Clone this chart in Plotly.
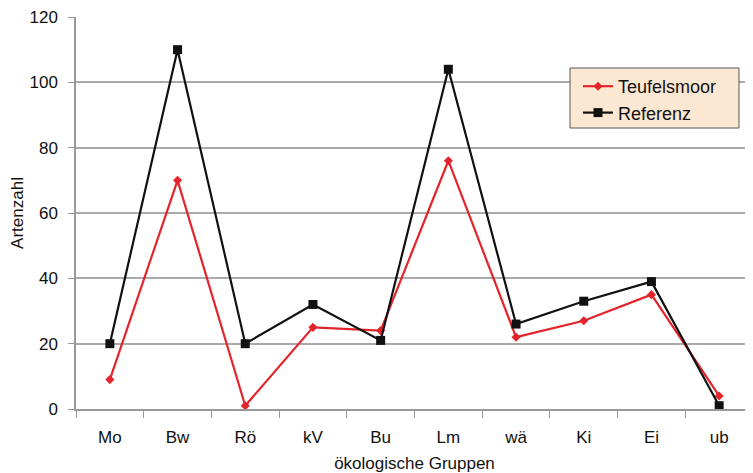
import plotly.graph_objects as go

categories = ["Mo", "Bw", "Rö", "kV", "Bu", "Lm", "wä", "Ki", "Ei", "ub"]
teufelsmoor = [9, 70, 1, 25, 24, 76, 22, 27, 35, 4]
referenz = [20, 110, 20, 32, 21, 104, 26, 33, 39, 1]

fig = go.Figure()
fig.add_trace(go.Scatter(
    x=categories, y=teufelsmoor, name="Teufelsmoor", mode="lines+markers",
    line=dict(color="#E3242B", width=2.2),
    marker=dict(symbol="diamond", size=7, color="#E3242B"),
))
fig.add_trace(go.Scatter(
    x=categories, y=referenz, name="Referenz", mode="lines+markers",
    line=dict(color="#111111", width=2.2),
    marker=dict(symbol="square", size=9, color="#111111"),
))

# legend frame drawn as a paper-anchored box
fig.add_shape(
    type="rect", xref="paper", yref="paper",
    x0=0.7297, x1=0.9793, y0=0.7168, y1=0.8699,
    fillcolor="#FCE8D2", line=dict(color="#555555", width=1), layer="above",
)

fig.update_layout(
    width=753, height=473,
    margin=dict(l=68, r=8, t=9, b=72),
    paper_bgcolor="white", plot_bgcolor="white",
    font=dict(family="Liberation Sans, Arial, sans-serif", size=17, color="#111111"),
    legend=dict(
        x=0.7415, y=0.8699, xanchor="left", yanchor="top",
        bgcolor="rgba(0,0,0,0)", borderwidth=0,
        font=dict(size=18), tracegroupgap=0, itemwidth=30,
    ),
    xaxis=dict(
        type="category", range=[-0.5, 9.5], tickson="boundaries", automargin=False,
        showgrid=False, showline=True, linecolor="#999999", linewidth=1.5,
        ticks="outside", ticklen=7, tickcolor="#999999", ticklabelstandoff=12,
        title=dict(text="ökologische Gruppen", standoff=11, font=dict(size=17)),
        tickfont=dict(size=17), ticklabeloverflow="allow",
    ),
    yaxis=dict(
        range=[0, 120], dtick=20, showgrid=True, gridcolor="#AAAAAA", gridwidth=1.5,
        showline=True, linecolor="#999999", linewidth=1.5, automargin=False,
        ticks="outside", ticklen=6, tickcolor="#999999", ticklabelstandoff=7,
        title=dict(text="Artenzahl", standoff=22, font=dict(size=17)),
        tickfont=dict(size=17), zeroline=False, ticklabeloverflow="allow",
    ),
)

fig.write_html("out.html")
